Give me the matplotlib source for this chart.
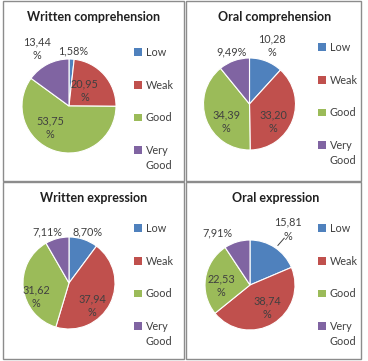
import matplotlib
matplotlib.use('Agg')
import matplotlib.pyplot as plt
from matplotlib.patches import Rectangle
from matplotlib.lines import Line2D

plt.rcParams['font.family'] = ['Lato', 'DejaVu Sans']

W, H = 368, 361

categories = ['Low', 'Weak', 'Good', 'Very Good']
colors = ['#4F81BD', '#C0504D', '#9BBB59', '#8064A2']

titles = ['Written comprehension', 'Oral comprehension',
          'Written expression', 'Oral expression']
written_comprehension = [1.58, 20.95, 53.75, 13.44]
oral_comprehension = [10.28, 33.20, 34.39, 9.49]
written_expression = [8.70, 37.94, 31.62, 7.11]
oral_expression = [15.81, 38.74, 22.53, 7.91]
label_texts = [
    ['1,58%', '20,95\n%', '53,75\n%', '13,44\n%'],
    ['10,28\n%', '33,20\n%', '34,39\n%', '9,49%'],
    ['8,70%', '37,94\n%', '31,62\n%', '7,11%'],
    ['15,81\n%', '38,74\n%', '22,53\n%', '7,91%'],
]
values = [written_comprehension, oral_comprehension,
          written_expression, oral_expression]

# layout in pixels: panel box, pie centre + radius, title centre, legend top-left
panels = [(3, 1, 184, 181), (186, 1, 361, 181), (3, 182, 184, 359), (186, 182, 361, 359)]
pies = [(69, 106, 47), (249.5, 104, 46), (69, 283, 46), (250, 285, 45)]
title_pos = [(94, 17), (275, 17), (94, 198), (276, 198)]
legend_pos = [(134, 47), (318, 42), (134, 223), (318, 223)]
# label positions in pie-radius units
label_pos = [
    [(0.09, 1.17), (0.34, 0.32), (-0.40, -0.47), (-0.68, 1.21)],
    [(0.49, 1.27), (0.51, -0.39), (-0.51, -0.39), (-0.40, 1.13)],
    [(0.41, 1.11), (0.50, -0.49), (-0.72, -0.29), (-0.46, 1.11)],
    [(0.84, 1.24), (0.38, -0.51), (-0.64, -0.02), (-0.73, 1.16)],
]

fig = plt.figure(figsize=(W / 100, H / 100), dpi=100)
fig.patch.set_facecolor('white')

legends = []
for i in range(4):
    x0, y0, x1, y1 = panels[i]
    fig.patches.append(Rectangle((x0 / W, 1 - y1 / H), (x1 - x0) / W, (y1 - y0) / H,
                                 transform=fig.transFigure, fill=False,
                                 edgecolor='#8c8c8c', linewidth=1.0))
    cx, cy, r = pies[i]
    ax = fig.add_axes([(cx - r) / W, 1 - (cy + r) / H, 2 * r / W, 2 * r / H])
    ax.pie(values[i], colors=colors, startangle=90, counterclock=False,
           wedgeprops=dict(linewidth=0.8, edgecolor='white'))
    ax.set_xlim(-1, 1)
    ax.set_ylim(-1, 1)
    ax.set_aspect('equal')
    ax.axis('off')
    for txt, (lx, ly) in zip(label_texts[i], label_pos[i]):
        ax.text(lx, ly, txt, ha='center', va='center', fontsize=7.8,
                color='#404040', linespacing=1.3, clip_on=False)
    if i == 3:
        ax.add_line(Line2D([0.62, 0.76], [0.88, 1.04], color='#404040',
                           linewidth=0.7, clip_on=False))
    tx, ty = title_pos[i]
    fig.text(tx / W, 1 - ty / H, titles[i], ha='center', va='center',
             fontsize=9, fontweight='bold', color='#202020')
    handles = [Rectangle((0, 0), 1, 1, facecolor=c) for c in colors]
    lx, ly = legend_pos[i]
    # the last entry wraps: first word in the legend, second word below it
    leg = fig.legend(handles, [c.split(' ')[0] for c in categories], loc='upper left',
                     bbox_to_anchor=(lx / W, 1 - ly / H), frameon=False,
                     fontsize=7.8, labelcolor='#404040', handlelength=0.7,
                     handleheight=0.7, handletextpad=0.4, labelspacing=2.0,
                     borderpad=0, borderaxespad=0)
    legends.append(leg)

fig.canvas.draw()
for leg in legends:
    bb = leg.get_texts()[-1].get_window_extent()
    fig.text(bb.x0 / W, (bb.y0 - 15) / H, categories[-1].split(' ')[1],
             ha='left', va='bottom', fontsize=7.8, color='#404040')

fig.savefig('out.png', dpi=100)
